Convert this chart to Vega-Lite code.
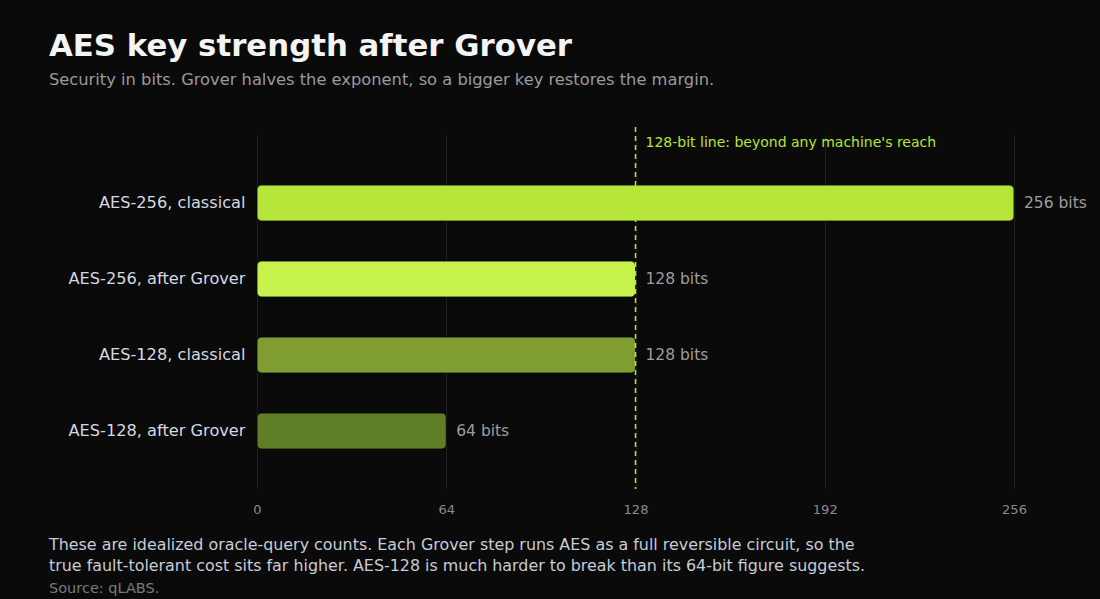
{
  "$schema": "https://vega.github.io/schema/vega-lite/v6.json",
  "background": "#0a0a0a",
  "autosize": {"type": "pad"},
  "padding": {"left": 49, "top": 30, "right": 13, "bottom": 6},
  "config": {
    "view": {"stroke": "transparent"},
    "font": "DejaVu Sans"
  },
  "title": {
    "text": "AES key strength after Grover",
    "subtitle": "Security in bits. Grover halves the exponent, so a bigger key restores the margin.",
    "anchor": "start",
    "frame": "group",
    "dx": -208,
    "offset": 36,
    "fontSize": 30.8,
    "fontWeight": "bold",
    "color": "#f4f4f4",
    "subtitleFontSize": 16.3,
    "subtitleColor": "#9a9a9a",
    "subtitlePadding": 10
  },
  "spacing": 20,
  "vconcat": [
    {
      "width": 757,
      "height": 354,
      "data": {
        "values": [
          {"key": "AES-256, classical", "bits": 256, "label": "256 bits"},
          {"key": "AES-256, after Grover", "bits": 128, "label": "128 bits"},
          {"key": "AES-128, classical", "bits": 128, "label": "128 bits"},
          {"key": "AES-128, after Grover", "bits": 64, "label": "64 bits"}
        ]
      },
      "layer": [
        {
          "mark": {"type": "bar", "cornerRadius": 5, "stroke": "#0a0a0a", "strokeWidth": 0.5},
          "encoding": {
            "y": {
              "field": "key",
              "type": "nominal",
              "sort": null,
              "title": null,
              "scale": {"paddingInner": 0.526, "paddingOuter": 0.592, "align": 0.556},
              "axis": {
                "domain": false,
                "ticks": false,
                "labelPadding": 12,
                "labelFontSize": 16.2,
                "labelColor": "#d4d8e0"
              }
            },
            "x": {
              "field": "bits",
              "type": "quantitative",
              "title": null,
              "scale": {"domain": [0, 256], "nice": false},
              "axis": {
                "values": [0, 64, 128, 192, 256],
                "domain": false,
                "ticks": false,
                "labelFlush": false,
                "labelPadding": 14,
                "labelFontSize": 13,
                "labelColor": "#8a8a8a",
                "gridColor": "#1f1f1f",
                "gridWidth": 1
              }
            },
            "color": {
              "field": "key",
              "type": "nominal",
              "legend": null,
              "scale": {
                "domain": ["AES-256, classical", "AES-256, after Grover", "AES-128, classical", "AES-128, after Grover"],
                "range": ["#b6e63a", "#c7f24c", "#7f9d30", "#5f7e26"]
              }
            }
          }
        },
        {
          "mark": {"type": "text", "align": "left", "baseline": "middle", "dx": 10, "fontSize": 15.5, "color": "#9d9d9d"},
          "encoding": {
            "y": {"field": "key", "type": "nominal", "sort": null},
            "x": {"field": "bits", "type": "quantitative"},
            "text": {"field": "label"}
          }
        },
        {
          "data": {"values": [{"bits": 128, "note": "128-bit line: beyond any machine's reach"}]},
          "mark": {"type": "rule", "color": "#b6e63a", "strokeDash": [5, 4], "strokeWidth": 1.5, "y": -8, "y2": "height"},
          "encoding": {
            "x": {"field": "bits", "type": "quantitative"}
          }
        },
        {
          "data": {"values": [{"bits": 128, "note": "128-bit line: beyond any machine's reach"}]},
          "mark": {"type": "text", "align": "left", "baseline": "middle", "dx": 10, "y": 8, "fontSize": 14, "color": "#b6e63a"},
          "encoding": {
            "x": {"field": "bits", "type": "quantitative"},
            "text": {"field": "note"}
          }
        }
      ]
    },
    {
      "width": 757,
      "height": 1,
      "data": {"values": [{}]},
      "mark": {"type": "text"},
      "encoding": {},
      "title": {
        "text": [
          "These are idealized oracle-query counts. Each Grover step runs AES as a full reversible circuit, so the",
          "true fault-tolerant cost sits far higher. AES-128 is much harder to break than its 64-bit figure suggests."
        ],
        "subtitle": "Source: qLABS.",
        "anchor": "start",
        "frame": "group",
        "dx": -208,
        "fontSize": 15.9,
        "fontWeight": "normal",
        "lineHeight": 21,
        "color": "#c8ccd4",
        "subtitleFontSize": 14.5,
        "subtitleColor": "#7a7a7a",
        "subtitlePadding": 8,
        "offset": 0
      }
    }
  ]
}
